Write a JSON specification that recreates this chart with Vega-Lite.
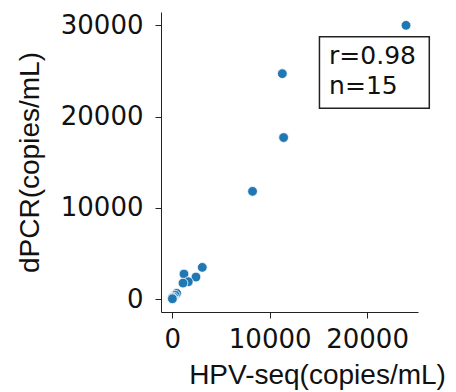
{
  "$schema": "https://vega.github.io/schema/vega-lite/v6.json",
  "width": 257,
  "height": 300,
  "autosize": {"type": "none"},
  "padding": {"left": 161, "top": 12, "right": 38, "bottom": 80},
  "config": {"view": {"stroke": null}},
  "datasets": {
    "pts": [
      {"hpv": 24000, "dpcr": 30000},
      {"hpv": 11300, "dpcr": 24700},
      {"hpv": 11430, "dpcr": 17700},
      {"hpv": 8240, "dpcr": 11800},
      {"hpv": 3080, "dpcr": 3470},
      {"hpv": 2430, "dpcr": 2410},
      {"hpv": 1200, "dpcr": 2740},
      {"hpv": 1640, "dpcr": 1900},
      {"hpv": 1100, "dpcr": 1750},
      {"hpv": 450, "dpcr": 620},
      {"hpv": 300, "dpcr": 420},
      {"hpv": 150, "dpcr": 220},
      {"hpv": 50, "dpcr": 60},
      {"hpv": 20, "dpcr": 120},
      {"hpv": 10, "dpcr": 30}
    ],
    "box": [{"x1": 15110, "x2": 26390, "y1": 20900, "y2": 28750}],
    "stats": [
      {"x": 16100, "y": 25800, "label": "r=0.98"},
      {"x": 16100, "y": 22500, "label": "n=15"}
    ]
  },
  "layer": [
    {
      "data": {"name": "pts"},
      "mark": {"type": "point", "filled": true, "color": "#1f77b4", "opacity": 1, "size": 95, "stroke": "white", "strokeWidth": 0.8},
      "encoding": {
        "x": {
          "field": "hpv", "type": "quantitative",
          "scale": {"domain": [-1160, 25230], "nice": false, "zero": false},
          "axis": {
            "values": [0, 10000, 20000], "format": "d", "grid": false,
            "title": "HPV-seq(copies/mL)", "titleFont": "Liberation Sans", "titleFontSize": 28, "titleFontWeight": "normal",
            "titleColor": "#111", "titleX": 156, "titleY": 71, "titleBaseline": "alphabetic", "titleAlign": "center",
            "labelFont": "DejaVu Sans", "labelFontSize": 26, "labelColor": "#111", "labelPadding": 8,
            "domainColor": "#222", "tickColor": "#222", "tickSize": 6, "labelFlush": false
          }
        },
        "y": {
          "field": "dpcr", "type": "quantitative",
          "scale": {"domain": [-1420, 31460], "nice": false, "zero": false},
          "axis": {
            "values": [0, 10000, 20000, 30000], "format": "d", "grid": false,
            "title": "dPCR(copies/mL)", "titleFont": "Liberation Sans", "titleFontSize": 28, "titleFontWeight": "normal",
            "titleColor": "#111", "titleX": -123, "titleY": 150, "titleBaseline": "alphabetic", "titleAlign": "center", "titleAngle": -90,
            "labelFont": "DejaVu Sans", "labelFontSize": 26, "labelColor": "#111", "labelPadding": 12,
            "domainColor": "#222", "tickColor": "#222", "tickSize": 6, "labelFlush": false
          }
        }
      }
    },
    {
      "data": {"name": "box"},
      "mark": {"type": "rect", "fill": "white", "stroke": "#222", "strokeWidth": 1.5, "clip": false},
      "encoding": {
        "x": {"field": "x1", "type": "quantitative"},
        "x2": {"field": "x2"},
        "y": {"field": "y1", "type": "quantitative"},
        "y2": {"field": "y2"}
      }
    },
    {
      "data": {"name": "stats"},
      "mark": {"type": "text", "font": "DejaVu Sans", "fontSize": 25, "align": "left", "baseline": "alphabetic", "color": "#111", "clip": false},
      "encoding": {
        "x": {"field": "x", "type": "quantitative"},
        "y": {"field": "y", "type": "quantitative"},
        "text": {"field": "label"}
      }
    }
  ]
}
